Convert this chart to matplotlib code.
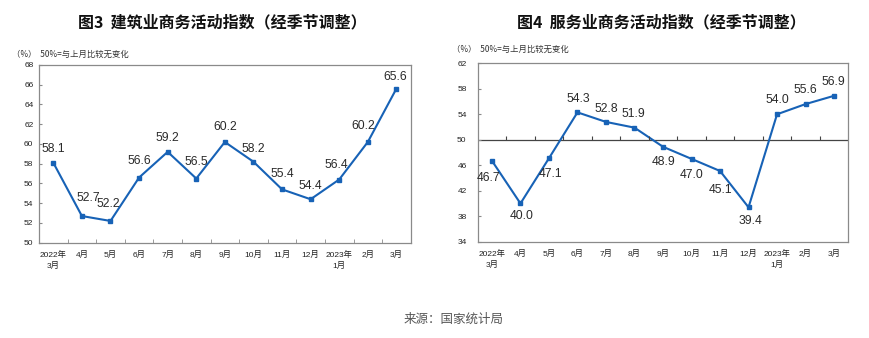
import numpy as np
import matplotlib
matplotlib.use("Agg")
import matplotlib.pyplot as plt

plt.rcParams['font.family'] = ['Liberation Sans', 'Noto Sans CJK SC', 'DejaVu Sans']

months = ["2022年\n3月", "4月", "5月", "6月", "7月", "8月", "9月", "10月",
          "11月", "12月", "2023年\n1月", "2月", "3月"]
construction = [58.1, 52.7, 52.2, 56.6, 59.2, 56.5, 60.2, 58.2, 55.4, 54.4, 56.4, 60.2, 65.6]
services = [46.7, 40.0, 47.1, 54.3, 52.8, 51.9, 48.9, 47.0, 45.1, 39.4, 54.0, 55.6, 56.9]

title1 = "图3  建筑业商务活动指数（经季节调整）"
title2 = "图4  服务业商务活动指数（经季节调整）"
note = "（%）  50%=与上月比较无变化"
source = "来源：国家统计局"

# label offsets in pixels (dx, dy; dy positive = up)
off1 = [(0, 14), (6, 18), (-2, 17), (0, 17), (0, 14), (0, 17), (0, 15), (0, 13),
        (0, 15), (0, 13), (-3, 15), (-5, 16), (-1, 12)]
off2 = [(-3, -17), (1, -13), (2, -16), (1, 13), (0, 13), (-1, 14), (1, -15), (0, -16),
        (0, -19), (2, -14), (0, 14), (0, 14), (-1, 14)]

BLUE = '#1762b6'
FRAME = '#8a8a8a'
PX = 0.72  # points per pixel at dpi 100

fig = plt.figure(figsize=(8.69, 3.38), dpi=100)

def draw(ax, vals, offs, ylim, yticks, ypad):
    x = np.arange(len(vals))
    ax.plot(x, vals, color=BLUE, lw=1.5, marker='s', ms=3.2, mfc=BLUE, mec=BLUE)
    for xi, v, (dx, dy) in zip(x, vals, offs):
        ax.annotate(f"{v:.1f}", (xi, v), xytext=(dx * PX, dy * PX), textcoords='offset points',
                    ha='center', va='center', fontsize=8.7, color='#2a2a2a')
    ax.set_xlim(-0.5, len(vals) - 0.5)
    ax.set_ylim(*ylim)
    ax.set_yticks(yticks)
    ax.set_xticks(x)
    ax.set_xticklabels(months, fontsize=6, linespacing=1.45, color='#222222')
    ax.tick_params(axis='x', which='major', length=0, pad=6)
    ax.tick_params(axis='y', labelsize=6, length=2, direction='in', pad=ypad,
                   color=FRAME, labelcolor='#222222')
    for s in ax.spines.values():
        s.set_color(FRAME)
        s.set_linewidth(0.9)
    return x

ax1 = fig.add_axes([0.0449, 0.282, 0.4277, 0.5257])
x = draw(ax1, construction, off1, (50, 68), np.arange(50, 69, 2), 4)
ax1.set_xticks(x[:-1] + 0.5, minor=True)
ax1.tick_params(axis='x', which='minor', direction='in', length=3, color=FRAME)

ax2 = fig.add_axes([0.5497, 0.2849, 0.4265, 0.5278])
x = draw(ax2, services, off2, (34, 62), np.arange(34, 63, 4), 8)
ax2.axhline(50, color='#444444', lw=0.9, zorder=1)
ax2.plot(x[:-1] + 0.5, np.full(len(x) - 1, 50.0), linestyle='none', marker=2,
         ms=3, color='#444444', mew=0.8)

fig.text(222 / 869, 1 - 22 / 338, title1, ha='center', va='center', fontsize=11.5,
         fontweight='bold', family=['Noto Sans CJK SC', 'DejaVu Sans'], color='#111111')
fig.text(661 / 869, 1 - 22 / 338, title2, ha='center', va='center', fontsize=11.5,
         fontweight='bold', family=['Noto Sans CJK SC', 'DejaVu Sans'], color='#111111')
fig.text(12 / 869, 1 - 54 / 338, note, ha='left', va='center', fontsize=6,
         family=['Noto Sans CJK SC', 'DejaVu Sans'], color='#333333')
fig.text(452 / 869, 1 - 49 / 338, note, ha='left', va='center', fontsize=6,
         family=['Noto Sans CJK SC', 'DejaVu Sans'], color='#333333')
fig.text(454 / 869, 1 - 319 / 338, source, ha='center', va='center', fontsize=9,
         family=['Noto Sans CJK SC', 'DejaVu Sans'], color='#555555')

fig.savefig("out.png", dpi=100)
